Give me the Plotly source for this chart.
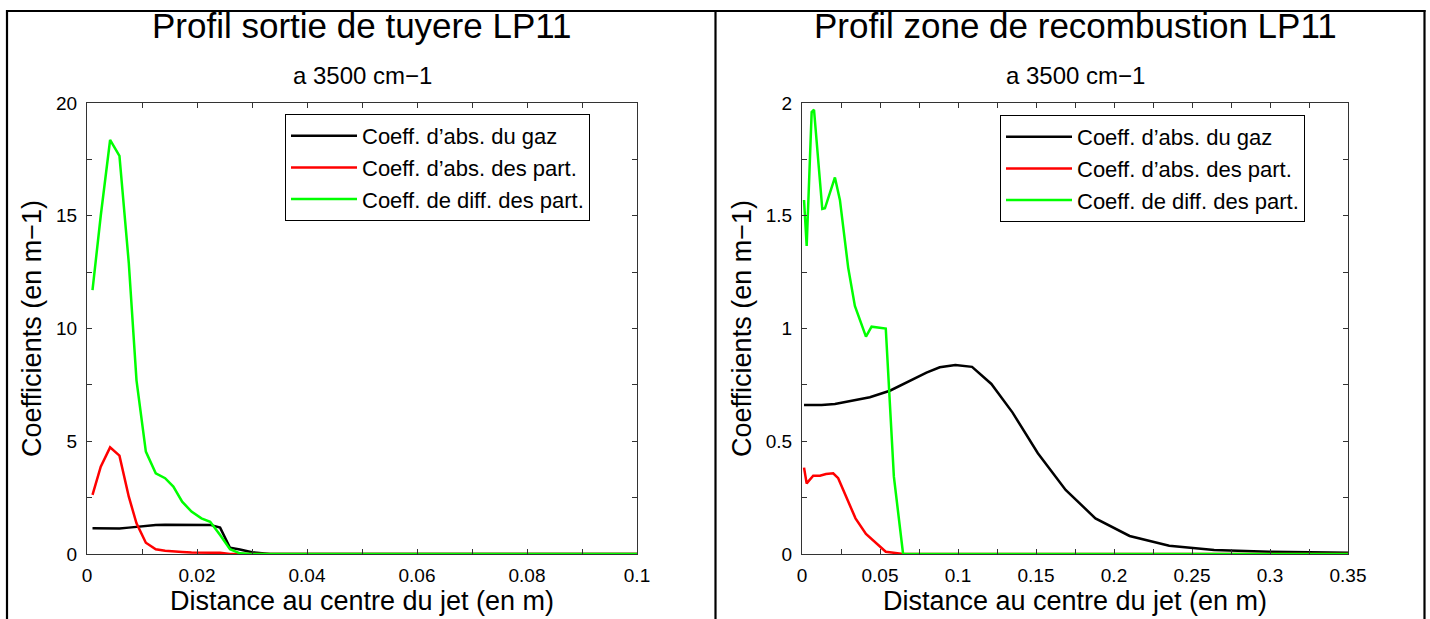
import plotly.graph_objects as go

W, H = 1430, 619

# ---------------- data: left panel (sortie de tuyere) ----------------
x_left = [0.001, 0.0025, 0.0042, 0.0059, 0.0076, 0.009, 0.0107, 0.0125, 0.0142,
          0.0157, 0.0173, 0.019, 0.0208, 0.0224, 0.0242, 0.026, 0.0278, 0.030,
          0.0333, 0.04, 0.05, 0.06, 0.07, 0.08, 0.09, 0.1]
gas_left = [1.14, 1.14, 1.13, 1.13, 1.17, 1.21, 1.25, 1.29, 1.30,
            1.30, 1.30, 1.30, 1.30, 1.29, 1.17, 0.28, 0.20, 0.08,
            0.0, 0.0, 0.0, 0.0, 0.0, 0.0, 0.0, 0.0]
abs_part_left = [2.62, 3.87, 4.73, 4.36, 2.54, 1.36, 0.50, 0.21, 0.14,
                 0.10, 0.09, 0.07, 0.07, 0.07, 0.05, 0.0, 0.0, 0.0,
                 0.0, 0.0, 0.0, 0.0, 0.0, 0.0, 0.0, 0.0]
diff_part_left = [11.7, 15.0, 18.36, 17.66, 12.9, 7.7, 4.54, 3.58, 3.36,
                  2.99, 2.32, 1.88, 1.58, 1.43, 0.84, 0.21, 0.03, 0.0,
                  0.0, 0.0, 0.0, 0.0, 0.0, 0.0, 0.0, 0.0]

# ---------------- data: right panel (zone de recombustion) ----------------
x_gas_right = [0.0013, 0.0126, 0.0211, 0.0318, 0.0435, 0.0563, 0.068, 0.0798,
               0.0883, 0.0983, 0.109, 0.1214, 0.135, 0.1512, 0.169, 0.1881,
               0.21, 0.2354, 0.2642, 0.2994, 0.35]
gas_right = [0.661, 0.661, 0.665, 0.68, 0.695, 0.724, 0.764, 0.804,
             0.828, 0.838, 0.83, 0.754, 0.627, 0.447, 0.284, 0.158,
             0.08, 0.037, 0.018, 0.01, 0.006]
x_abs_right = [0.0013, 0.003, 0.0072, 0.0115, 0.0154, 0.02, 0.0232, 0.0286,
               0.0343, 0.041, 0.0474, 0.0537, 0.0648, 0.1, 0.15, 0.2, 0.25,
               0.3, 0.35]
abs_part_right = [0.383, 0.313, 0.347, 0.347, 0.355, 0.358, 0.336, 0.247,
                  0.158, 0.089, 0.047, 0.01, 0.0, 0.0, 0.0, 0.0, 0.0,
                  0.0, 0.0]
x_diff_right = [0.0013, 0.003, 0.0062, 0.0077, 0.013, 0.0147, 0.0211, 0.0243,
                0.0296, 0.0339, 0.041, 0.0446, 0.0537, 0.0589, 0.0648, 0.1,
                0.15, 0.2, 0.25, 0.3, 0.35]
diff_part_right = [1.57, 1.366, 1.96, 1.97, 1.53, 1.533, 1.67, 1.57,
                   1.27, 1.10, 0.964, 1.008, 1.0, 0.343, 0.0, 0.0,
                   0.0, 0.0, 0.0, 0.0, 0.0]

series_names = ["Coeff. d\u2019abs. du gaz", "Coeff. d\u2019abs. des part.",
                "Coeff. de diff. des part."]
colors = ["#000000", "#ff0000", "#00ff00"]

titles = ["Profil sortie de tuyere LP11", "Profil zone de recombustion LP11"]
subtitle = "a 3500 cm\u22121"
xlabel = "Distance au centre du jet (en m)"
ylabel = "Coefficients (en m\u22121)"

FONT = "Liberation Sans, Arial, Helvetica, sans-serif"

fig = go.Figure()

left = [(x_left, gas_left), (x_left, abs_part_left), (x_left, diff_part_left)]
right = [(x_gas_right, gas_right), (x_abs_right, abs_part_right),
         (x_diff_right, diff_part_right)]

for (xs, ys), name, c in zip(left, series_names, colors):
    fig.add_trace(go.Scatter(x=xs, y=ys, mode="lines", name=name,
                             line=dict(color=c, width=2.5),
                             xaxis="x", yaxis="y", legend="legend"))
for (xs, ys), name, c in zip(right, series_names, colors):
    fig.add_trace(go.Scatter(x=xs, y=ys, mode="lines", name=name,
                             line=dict(color=c, width=2.5),
                             xaxis="x2", yaxis="y2", legend="legend2"))

def px_x(p):
    return p / W

def px_y(p):
    return (H - p) / H

dom_x1 = [px_x(87), px_x(637)]
dom_x2 = [px_x(802), px_x(1348)]
dom_y = [px_y(554), px_y(103)]

axis_common = dict(
    showline=True, linecolor="#333333", linewidth=1, mirror="allticks",
    ticks="inside", ticklen=5, tickcolor="#333333", showgrid=False,
    zeroline=False, tickfont=dict(family=FONT, size=19, color="black"),
    automargin=False,
)
minor_common = dict(ticks="inside", ticklen=5, tickcolor="#333333")
title_font = dict(family=FONT, size=27, color="black")
legend_common = dict(xanchor="left", yanchor="top",
                     bordercolor="black", borderwidth=1, bgcolor="white",
                     font=dict(family=FONT, size=22, color="black"),
                     itemwidth=66, tracegroupgap=0)

fig.update_layout(
    width=W, height=H,
    margin=dict(l=0, r=0, t=0, b=0),
    paper_bgcolor="white", plot_bgcolor="white",
    font=dict(family=FONT, color="black"),
    xaxis=dict(domain=dom_x1, range=[0, 0.1], dtick=0.02, anchor="y",
               minor=dict(dtick=0.01, **minor_common),
               title=dict(text=xlabel, font=title_font, standoff=1),
               ticklabelstandoff=4, **axis_common),
    yaxis=dict(domain=dom_y, range=[0, 20], dtick=5, anchor="x",
               minor=dict(dtick=2.5, **minor_common),
               title=dict(text=ylabel, font=title_font, standoff=6),
               ticklabelstandoff=5, **axis_common),
    xaxis2=dict(domain=dom_x2, range=[0, 0.35], dtick=0.05, anchor="y2",
                minor=dict(dtick=0.025, **minor_common),
                title=dict(text=xlabel, font=title_font, standoff=1),
                ticklabelstandoff=4, **axis_common),
    yaxis2=dict(domain=dom_y, range=[0, 2], dtick=0.5, anchor="x2",
                minor=dict(dtick=0.25, **minor_common),
                title=dict(text=ylabel, font=title_font, standoff=6),
                ticklabelstandoff=5, **axis_common),
    legend=dict(x=px_x(285), y=px_y(114), **legend_common),
    legend2=dict(x=px_x(1000), y=px_y(115), **legend_common),
    showlegend=True,
)

# titles and subtitles
for i, t in enumerate(titles):
    dom = dom_x1 if i == 0 else dom_x2
    cx = (dom[0] + dom[1]) / 2
    fig.add_annotation(text=t, x=cx, y=px_y(25), xref="paper", yref="paper",
                       showarrow=False, xanchor="center", yanchor="middle",
                       font=dict(family=FONT, size=35, color="black"))
    fig.add_annotation(text=subtitle, x=cx, y=px_y(75), xref="paper", yref="paper",
                       showarrow=False, xanchor="center", yanchor="middle",
                       font=dict(family=FONT, size=24, color="black"))

# panel frames
frame = dict(type="line", xref="paper", yref="paper",
             line=dict(color="black", width=2.2))
fig.add_shape(x0=px_x(7), x1=px_x(7), y0=0, y1=px_y(10), **frame)
fig.add_shape(x0=px_x(715.5), x1=px_x(715.5), y0=0, y1=px_y(10), **frame)
fig.add_shape(x0=px_x(1424.5), x1=px_x(1424.5), y0=0, y1=px_y(10), **frame)
fig.add_shape(x0=px_x(6), x1=px_x(1425.5), y0=px_y(11), y1=px_y(11), **frame)

fig.write_html("out.html", config={"displayModeBar": False},
               post_script="document.body.style.margin='0';"
                           "document.body.style.overflow='hidden';")
